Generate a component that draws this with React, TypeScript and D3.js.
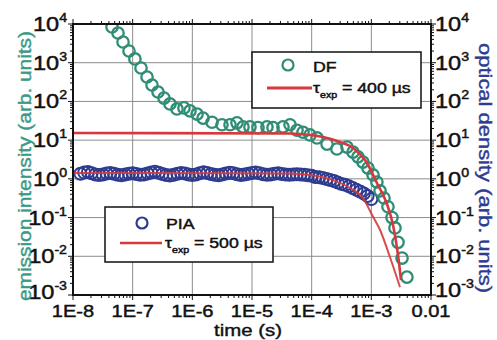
import React from "react";
import * as d3 from "d3";

// ---------- data ----------
const dfTime = [
  3.72e-8, 4.51e-8, 5.68e-8, 6.89e-8, 8.68e-8, 1.09e-7, 1.38e-7, 1.74e-7, 2.11e-7, 2.66e-7,
  3.35e-7, 4.22e-7, 5.53e-7, 7.24e-7, 9.14e-7, 1.2e-6, 1.51e-6, 2.14e-6, 3.14e-6, 4.28e-6,
  5.6e-6, 7.06e-6, 9.24e-6, 1.26e-5, 1.78e-5, 2.25e-5, 3.3e-5, 4.34e-5, 5.68e-5, 7.16e-5,
  9.38e-5, 1.23e-4, 1.81e-4, 2.65e-4, 3.91e-4, 4.93e-4, 5.97e-4, 7.24e-4, 8.79e-4, 1.07e-3,
  1.24e-3, 1.4e-3, 1.63e-3, 1.9e-3, 2.22e-3, 2.49e-3, 2.8e-3, 3.27e-3, 3.95e-3,
];
const dfValue = [
  14300, 8370, 5860, 3430, 2010, 1250, 730, 428, 266, 175,
  122, 86, 64, 68, 57, 47, 37, 29, 25, 25,
  28, 22, 22, 21, 22, 21, 22, 25, 18, 16,
  13.6, 11.4, 7.9, 5.9, 6.6, 4.9, 3.7, 2.7, 1.9, 1.26,
  0.83, 0.49, 0.32, 0.19, 0.1, 0.054, 0.023, 0.009, 0.0029,
];

const piaTime = [
  1.33e-8, 1.54e-8, 1.78e-8, 2.05e-8, 2.37e-8, 2.74e-8, 3.16e-8, 3.65e-8, 4.22e-8, 4.87e-8, 5.62e-8, 6.49e-8, 7.5e-8, 8.66e-8,
  1.0e-7, 1.15e-7, 1.33e-7, 1.54e-7, 1.78e-7, 2.05e-7, 2.37e-7, 2.74e-7, 3.16e-7, 3.65e-7, 4.22e-7, 4.87e-7, 5.62e-7, 6.49e-7, 7.5e-7, 8.66e-7,
  1.0e-6, 1.15e-6, 1.33e-6, 1.54e-6, 1.78e-6, 2.05e-6, 2.37e-6, 2.74e-6, 3.16e-6, 3.65e-6, 4.22e-6, 4.87e-6, 5.62e-6, 6.49e-6, 7.5e-6, 8.66e-6,
  1.0e-5, 1.15e-5, 1.33e-5, 1.54e-5, 1.78e-5, 2.05e-5, 2.37e-5, 2.74e-5, 3.16e-5, 3.65e-5, 4.22e-5, 4.87e-5, 5.62e-5, 6.49e-5, 7.5e-5, 8.66e-5,
  1.0e-4, 1.15e-4, 1.33e-4, 1.54e-4, 1.78e-4, 2.05e-4, 2.37e-4, 2.74e-4, 3.16e-4, 3.65e-4, 4.22e-4, 4.87e-4, 5.62e-4, 6.49e-4, 7.5e-4, 8.66e-4,
  1.0e-3,
];
const piaValue = [
  1.35, 1.45, 1.5, 1.4, 1.3, 1.25, 1.3, 1.38, 1.42, 1.36, 1.28, 1.24, 1.3, 1.36,
  1.4, 1.34, 1.27, 1.3, 1.38, 1.46, 1.52, 1.44, 1.33, 1.26, 1.22, 1.28, 1.36, 1.41, 1.37, 1.3,
  1.25, 1.3, 1.4, 1.48, 1.42, 1.33, 1.27, 1.24, 1.3, 1.38, 1.44, 1.39, 1.31, 1.26, 1.29, 1.35,
  1.42, 1.47, 1.4, 1.32, 1.27, 1.3, 1.36, 1.4, 1.34, 1.3, 1.28, 1.3, 1.32, 1.3, 1.27, 1.24,
  1.2, 1.12, 1.1, 1.05, 0.99, 0.93, 0.88, 0.8, 0.74, 0.7, 0.64, 0.58, 0.52, 0.47, 0.42, 0.36,
  0.3,
];

const dfFitTime = [1e-8, 4.34e-5, 9.38e-5, 1.55e-4, 2.99e-4, 4.93e-4, 8.45e-4, 1.24e-3, 1.83e-3, 2.31e-3, 2.8e-3, 3.14e-3];
const dfFitValue = [15.3, 14.8, 13.6, 12.05, 8.95, 6.27, 2.57, 0.78, 0.224, 0.0642, 0.0108, 0.00244];
const piaFitTime = [1e-8, 4.34e-5, 9.38e-5, 2.28e-4, 4.39e-4, 7.24e-4, 1.03e-3, 1.4e-3, 2.05e-3, 3.02e-3];
const piaFitValue = [1.42, 1.37, 1.26, 0.93, 0.58, 0.32, 0.116, 0.0477, 0.0096, 0.0016];

const xTickValues = [1e-8, 1e-7, 1e-6, 1e-5, 1e-4, 1e-3, 1e-2];
const xTickLabels = ["1E-8", "1E-7", "1E-6", "1E-5", "1E-4", "1E-3", "0.01"];
const yExponents = [4, 3, 2, 1, 0, -1, -2, -3];

// ---------- style ----------
const FONT = "'Liberation Sans', Arial, Helvetica, sans-serif";
const SX = 1.18;
const TEAL = "#2f8d76";
const TEAL_TITLE = "#3a9a87";
const NAVY = "#2d3c90";
const RED = "#d6383d";
const GRID = "#8c8c8c";

const L = 73, R = 431, T = 24, B = 295;

function SText({ x, y, anchor = "start", size = 18, fill = "#111", children }: any) {
  return (
    <g transform={`translate(${x},${y}) scale(${SX},1)`}>
      <text textAnchor={anchor} fontSize={size} fill={fill} stroke={fill} strokeWidth={0.45} fontFamily={FONT}>
        {children}
      </text>
    </g>
  );
}

export default function App() {
  const x = d3.scaleLog().domain([1e-8, 1e-2]).range([L, R]);
  const y = d3.scaleLog().domain([1e-3, 1e4]).range([B, T]);

  const dfPts = dfTime.map((t, i) => [t, dfValue[i]] as [number, number]);
  const piaPts = piaTime.map((t, i) => [t, piaValue[i]] as [number, number]);
  const dfFit = dfFitTime.map((t, i) => [t, dfFitValue[i]] as [number, number]);
  const piaFit = piaFitTime.map((t, i) => [t, piaFitValue[i]] as [number, number]);

  const line = d3
    .line<[number, number]>()
    .x((d) => x(d[0]))
    .y((d) => y(d[1]))
    .curve(d3.curveMonotoneX);

  const xMinor: number[] = [];
  for (let e = -8; e < -2; e++) for (let m = 2; m <= 9; m++) xMinor.push(m * Math.pow(10, e));
  const yMinor: number[] = [];
  for (let e = -3; e < 4; e++) for (let m = 2; m <= 9; m++) yMinor.push(m * Math.pow(10, e));
  const yMajor = yExponents.map((e) => Math.pow(10, e));

  return (
    <svg width={497} height={340} style={{ position: "absolute", left: 0, top: 0, background: "#fff" }}>
      <defs>
        <clipPath id="plotclip">
          <rect x={L} y={T} width={R - L} height={B - T} />
        </clipPath>
      </defs>
      <rect x={0} y={0} width={497} height={340} fill="#fff" />

      {/* grid */}
      {xTickValues.slice(1, -1).map((v, i) => (
        <line key={"gx" + i} x1={x(v)} x2={x(v)} y1={T} y2={B} stroke={GRID} strokeWidth={1} />
      ))}
      {yMajor.slice(1, -1).map((v, i) => (
        <line key={"gy" + i} x1={L} x2={R} y1={y(v)} y2={y(v)} stroke={GRID} strokeWidth={1} />
      ))}

      {/* data */}
      <g clipPath="url(#plotclip)">
        {piaPts.map((d, i) => (
          <circle key={"p" + i} cx={x(d[0])} cy={y(d[1])} r={6} fill="none" stroke={NAVY} strokeWidth={2} />
        ))}
        {dfPts.map((d, i) => (
          <circle key={"d" + i} cx={x(d[0])} cy={y(d[1])} r={5.7} fill="none" stroke={TEAL} strokeWidth={2.3} />
        ))}
        <path d={line(piaFit) || ""} fill="none" stroke={RED} strokeWidth={2} opacity={0.9} />
        <path d={line(dfFit) || ""} fill="none" stroke={RED} strokeWidth={2.6} />
      </g>

      {/* frame */}
      <rect x={L} y={T} width={R - L} height={B - T} fill="none" stroke="#111" strokeWidth={2} />

      {/* ticks */}
      {xTickValues.map((v, i) => (
        <g key={"xt" + i}>
          <line x1={x(v)} x2={x(v)} y1={B} y2={B + 5} stroke="#111" />
          <line x1={x(v)} x2={x(v)} y1={T} y2={T - 5} stroke="#111" />
        </g>
      ))}
      {xMinor.map((v, i) => (
        <g key={"xm" + i}>
          <line x1={x(v)} x2={x(v)} y1={B} y2={B + 3} stroke="#111" />
          <line x1={x(v)} x2={x(v)} y1={T} y2={T - 3} stroke="#111" />
        </g>
      ))}
      {yMajor.map((v, i) => (
        <g key={"yt" + i}>
          <line x1={L} x2={L - 5} y1={y(v)} y2={y(v)} stroke="#111" />
          <line x1={R} x2={R + 5} y1={y(v)} y2={y(v)} stroke="#111" />
        </g>
      ))}
      {yMinor.map((v, i) => (
        <g key={"ym" + i}>
          <line x1={L} x2={L - 3} y1={y(v)} y2={y(v)} stroke="#111" />
          <line x1={R} x2={R + 3} y1={y(v)} y2={y(v)} stroke="#111" />
        </g>
      ))}

      {/* x tick labels */}
      {xTickValues.map((v, i) => (
        <SText key={"xl" + i} x={x(v)} y={317} anchor="middle" size={17}>
          {xTickLabels[i]}
        </SText>
      ))}
      {/* y tick labels */}
      {yExponents.map((e, i) => (
        <SText key={"yl" + i} x={67} y={y(Math.pow(10, e)) + (e === -3 ? 4 : 7)} anchor="end" size={20}>
          10<tspan dy={-9} fontSize={12}>{e}</tspan>
        </SText>
      ))}
      {yExponents.map((e, i) => (
        <SText key={"yr" + i} x={435} y={y(Math.pow(10, e)) + (e === -3 ? 2 : 7)} anchor="start" size={20}>
          10<tspan dy={-9} fontSize={12}>{e}</tspan>
        </SText>
      ))}

      {/* axis titles */}
      <text x={248} y={336} textAnchor="middle" fontSize={17} fontFamily={FONT} fill="#111" stroke="#111" strokeWidth={0.4} textLength={68} lengthAdjust="spacingAndGlyphs">
        time (s)
      </text>
      <text transform="translate(31,166) rotate(-90)" textAnchor="middle" fontSize={19} fontFamily={FONT} fill={TEAL_TITLE} stroke={TEAL_TITLE} strokeWidth={0.4} textLength={270} lengthAdjust="spacingAndGlyphs">
        emission intensity (arb. units)
      </text>
      <text transform="translate(479,168) rotate(90)" textAnchor="middle" fontSize={19} fontFamily={FONT} fill={NAVY} stroke={NAVY} strokeWidth={0.4} textLength={250} lengthAdjust="spacingAndGlyphs">
        optical density (arb. units)
      </text>

      {/* legend DF */}
      <rect x={252} y={52} width={169} height={56} fill="#fff" stroke="#111" strokeWidth={1.5} />
      <circle cx={288} cy={65} r={5.5} fill="none" stroke={TEAL} strokeWidth={2.2} />
      <SText x={313} y={72} size={15}>DF</SText>
      <line x1={267} x2={312} y1={88} y2={88} stroke={RED} strokeWidth={3} />
      <SText x={313} y={93} size={15}>
        τ<tspan dy={5} fontSize={9}>exp</tspan>
        <tspan dy={-5}> = 400 µs</tspan>
      </SText>

      {/* legend PIA */}
      <rect x={105} y={207} width={168} height={55} fill="#fff" stroke="#111" strokeWidth={1.5} />
      <circle cx={142} cy={223} r={5.5} fill="none" stroke={NAVY} strokeWidth={2.2} />
      <SText x={166} y={229} size={15}>PIA</SText>
      <line x1={120} x2={162} y1={243} y2={243} stroke={RED} strokeWidth={2.5} />
      <SText x={165} y={248} size={15}>
        τ<tspan dy={5} fontSize={9}>exp</tspan>
        <tspan dy={-5}> = 500 µs</tspan>
      </SText>
    </svg>
  );
}
